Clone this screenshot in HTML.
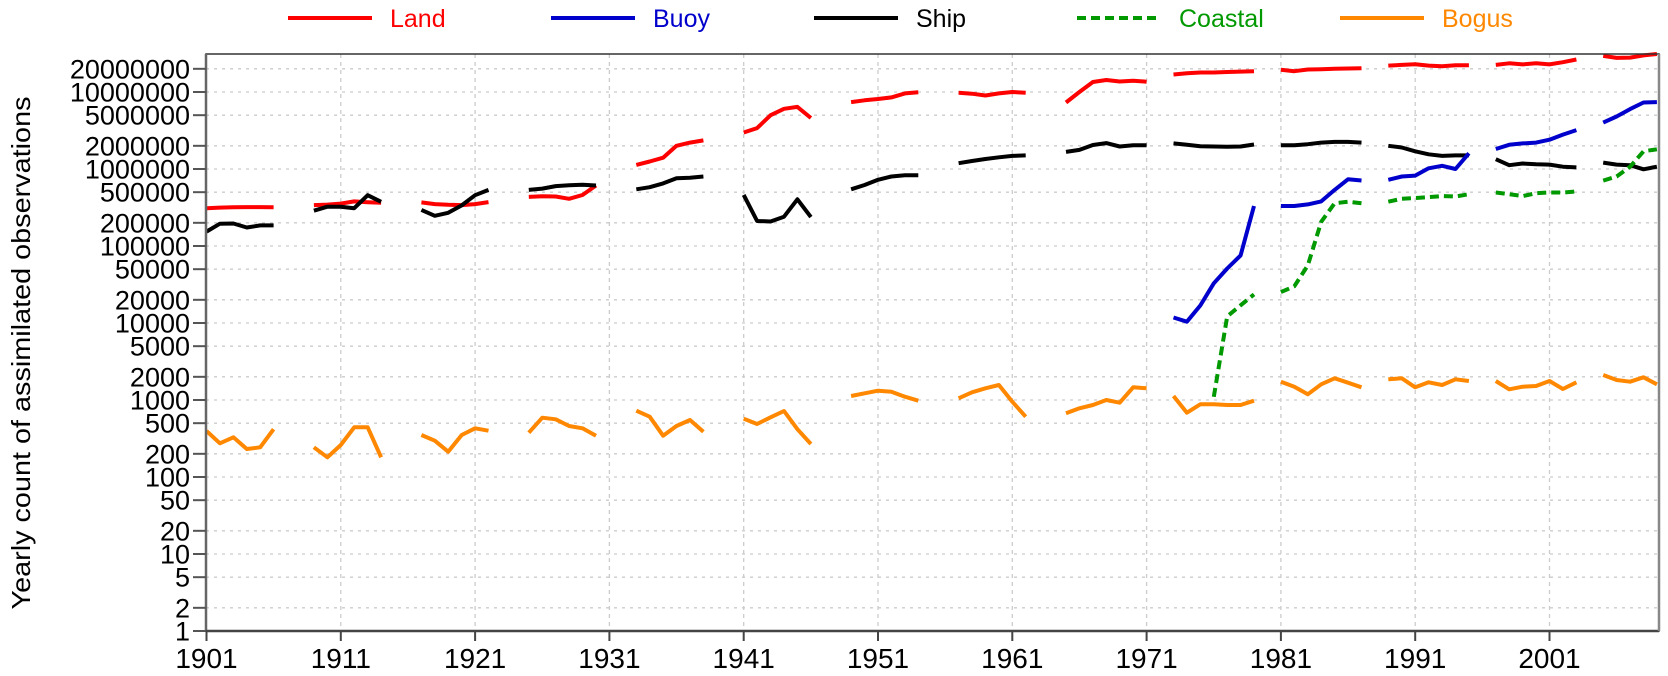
<!DOCTYPE html>
<html><head><meta charset="utf-8"><style>
html,body{margin:0;padding:0;background:#fff;}
svg{display:block;font-family:"Liberation Sans",Arial,sans-serif;}
</style></head><body>
<svg id="chart" width="1668" height="676" viewBox="0 0 1668 676" xmlns="http://www.w3.org/2000/svg">
<g id="grid"></g>
<g id="series"></g>
<rect x="206" y="54" width="1453" height="577" fill="none" stroke="#333" stroke-width="1.5"/>
<line x1="206" y1="54" x2="206" y2="631" stroke="#666" stroke-width="2.5"/>
<line x1="206" y1="631" x2="1659" y2="631" stroke="#444" stroke-width="2.5"/>
<line x1="1659" y1="54" x2="1659" y2="631" stroke="#888" stroke-width="2.5"/>
<g id="axes"></g>
<text transform="translate(30,353) rotate(-90)" text-anchor="middle" font-size="26" textLength="513" lengthAdjust="spacingAndGlyphs">Yearly count of assimilated observations</text>
<g id="legend"></g>
</svg>
<script>
const segStarts = [1901,1909,1917,1925,1933,1941,1949,1957,1965,1973,1981,1989,1997,2005];
const yTicks = [1,2,5,10,20,50,100,200,500,1000,2000,5000,10000,20000,50000,100000,200000,500000,1000000,2000000,5000000,10000000,20000000];
const xTicks = [1901,1911,1921,1931,1941,1951,1961,1971,1981,1991,2001];
const landVals = [
 [310e3,315e3,318e3,320e3,320e3,318e3],[340e3,345e3,355e3,380e3,370e3,365e3],
 [368e3,350e3,343e3,340e3,350e3,372e3],[434e3,443e3,440e3,410e3,460e3,610e3],
 [1.13e6,1.25e6,1.4e6,2.0e6,2.2e6,2.35e6],[2.98e6,3.4e6,5.0e6,6.05e6,6.4e6,4.6e6],
 [7.4e6,7.8e6,8.1e6,8.5e6,9.6e6,9.9e6],[9.75e6,9.5e6,9.0e6,9.6e6,10e6,9.8e6],
 [7.3e6,10e6,13.5e6,14.3e6,13.7e6,14e6,13.6e6],[16.9e6,17.5e6,17.9e6,17.9e6,18.2e6,18.4e6,18.6e6],
 [19.4e6,18.6e6,19.6e6,19.8e6,20e6,20.2e6,20.4e6],[22e6,22.5e6,22.9e6,22e6,21.6e6,22.3e6,22.3e6],
 [22.5e6,23.6e6,22.8e6,23.6e6,22.8e6,24.4e6,26.4e6],[29.4e6,27.7e6,28e6,29.9e6,31.2e6]];
const shipVals = [
 [154e3,195e3,196e3,174e3,185e3,185e3],[287e3,324e3,324e3,310e3,457e3,375e3],
 [294e3,247e3,270e3,337e3,457e3,536e3],[536e3,557e3,600e3,615e3,625e3,610e3],
 [545e3,580e3,650e3,760e3,770e3,800e3],[461e3,211e3,208e3,240e3,404e3,237e3],
 [545e3,620e3,725e3,800e3,830e3,830e3],[1.19e6,1.27e6,1.35e6,1.42e6,1.48e6,1.5e6],
 [1.67e6,1.77e6,2.05e6,2.17e6,1.96e6,2.03e6,2.03e6],[2.15e6,2.06e6,1.97e6,1.96e6,1.94e6,1.96e6,2.08e6],
 [2.03e6,2.03e6,2.1e6,2.2e6,2.25e6,2.25e6,2.2e6],[2.0e6,1.9e6,1.7e6,1.55e6,1.48e6,1.5e6,1.5e6],
 [1.34e6,1.12e6,1.18e6,1.15e6,1.14e6,1.07e6,1.05e6],[1.21e6,1.14e6,1.12e6,0.99e6,1.07e6]];
const buoyVals = [[],[],[],[],[],[],[],[],[],
 [11.8e3,10.4e3,16.9e3,32.8e3,51e3,75.5e3,331e3],[331e3,331e3,347e3,380e3,536e3,736e3,710e3],
 [725e3,800e3,820e3,1.02e6,1.1e6,1.0e6,1.6e6],[1.82e6,2.06e6,2.15e6,2.2e6,2.4e6,2.8e6,3.2e6],
 [4.0e6,4.8e6,6.0e6,7.3e6,7.4e6]];
const coastalVals = [[],[],[],[],[],[],[],[],[],
 [null,null,null,1100,12200,17000,23500],[25.2e3,30e3,56e3,206e3,359e3,376e3,359e3],
 [376e3,412e3,420e3,432e3,445e3,440e3,470e3],[495e3,470e3,445e3,485e3,495e3,495e3,510e3],
 [707e3,800e3,1.07e6,1.7e6,1.8e6]];
const bogusVals = [
 [396,274,328,231,243,417],[243,180,260,442,442,180],[351,296,213,351,429,399],
 [376,589,561,459,429,344],[726,607,344,459,550,387],[572,488,596,719,417,268],
 [1127,1222,1321,1282,1104,978],[1052,1259,1419,1566,950,607],
 [671,780,861,1000,923,1462,1419],[1127,684,879,879,861,861,978],
 [1730,1489,1186,1597,1913,1679,1462],[1857,1913,1462,1698,1566,1857,1766],
 [1766,1377,1489,1520,1766,1390,1698],[2113,1820,1730,1972,1597]];
const seriesNames = ["Land","Buoy","Ship","Coastal","Bogus"];

const NS="http://www.w3.org/2000/svg";
const X0=206.5, PXY=13.43, Y1=631, PXD=77;
function xS(yr){return X0+(yr-1901)*PXY;}
function yS(v){return Y1-Math.log10(v)*PXD;}
function mk(tag,attrs,parent){const e=document.createElementNS(NS,tag);for(const k in attrs)e.setAttribute(k,attrs[k]);parent.appendChild(e);return e;}
const grid=document.getElementById('grid'),axes=document.getElementById('axes'),ser=document.getElementById('series'),leg=document.getElementById('legend');
yTicks.forEach(v=>{
  const y=yS(v);
  if(v>1){const g=mk('line',{x1:206,x2:1659,y1:y,y2:y,stroke:'#ccc','stroke-width':1.3,'stroke-dasharray':'3,5'},grid);
  
  }
  const t=mk('line',{x1:193,x2:206,y1:y,y2:y,stroke:'#555','stroke-width':2},axes);
  
  
  const l=mk('text',{x:190,y:y+9.5,'text-anchor':'end','font-size':27},axes);
  
  
  l.textContent=String(v);
});
xTicks.forEach(yr=>{
  const x=xS(yr);
  if(yr>1901){const g=mk('line',{x1:x,x2:x,y1:54,y2:631,stroke:'#ccc','stroke-width':1.3,'stroke-dasharray':'4,4'},grid);
  
  }
  const t=mk('line',{x1:x,x2:x,y1:631,y2:641,stroke:'#444','stroke-width':2},axes);
  
  
  const l=mk('text',{x:x,y:668,'text-anchor':'middle','font-size':28},axes);
  
  
  l.textContent=String(yr);
});
const styles=[
 {vals:landVals,color:'#ff0000',dash:null,name:'land-line'},
 {vals:buoyVals,color:'#0000cc',dash:null,name:'buoy-line'},
 {vals:shipVals,color:'#000000',dash:null,name:'ship-line'},
 {vals:coastalVals,color:'#009900',dash:'9,5',name:'coastal-line'},
 {vals:bogusVals,color:'#ff8800',dash:null,name:'bogus-line'}];
[4,0,2,1,3].forEach(i=>{
  const s=styles[i];
  s.vals.forEach((seg,si)=>{
    let d='';
    seg.forEach((v,j)=>{ if(v==null)return; d+=(d?'L':'M')+xS(segStarts[si]+j).toFixed(1)+','+yS(v).toFixed(1);});
    if(!d)return;
    const p=mk('path',{d:d,fill:'none',stroke:s.color,'stroke-width':4,'stroke-linejoin':'round'},ser);
    if(s.dash)p.setAttribute('stroke-dasharray',s.dash);
    
    
  });
});
styles.forEach((s,i)=>{
  const x=288+i*263;
  const l=mk('line',{x1:x,x2:x+84,y1:18,y2:18,stroke:s.color,'stroke-width':4},leg);
  if(s.dash)l.setAttribute('stroke-dasharray','9,5');
  
  
  const t=mk('text',{x:x+102,y:27,'font-size':25,fill:s.color},leg);
  
  
  t.textContent=seriesNames[i];
});
</script>
</body></html>
